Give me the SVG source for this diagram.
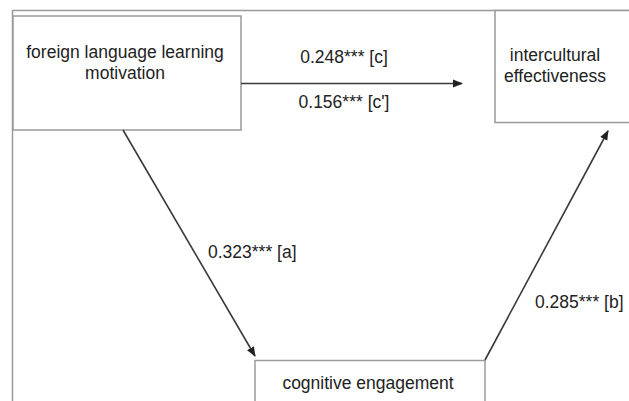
<svg xmlns="http://www.w3.org/2000/svg" width="629" height="401" viewBox="0 0 629 401">
<style>
.box{fill:#fff;stroke:#9a9a9a;stroke-width:1.5}
.frame{fill:none;stroke:#9a9a9a;stroke-width:1.5}
.edge{fill:none;stroke:#3a3a3a;stroke-width:1.6}
text{font-family:"Liberation Sans",Arial,sans-serif;font-size:17.5px;fill:#222}
.c{text-anchor:middle}
</style>
<defs>
<marker id="ah" viewBox="0 0 10 10" refX="9" refY="5" markerWidth="10" markerHeight="10" markerUnits="userSpaceOnUse" orient="auto">
<path d="M0,1 L10,5 L0,9 Z" fill="#222"/>
</marker>
</defs>
<rect width="629" height="401" fill="#fff"/>
<path class="frame" d="M12.5,401 V10.5 H629"/>
<g id="motivation">
<rect class="box" x="13" y="16" width="228" height="114"/>
<text class="c" x="125" y="58">foreign language learning</text>
<text class="c" x="125" y="79">motivation</text>
</g>
<g id="effectiveness">
<rect class="box" x="495" y="10.5" width="150" height="112"/>
<text class="c" x="555" y="61">intercultural</text>
<text class="c" x="555" y="82">effectiveness</text>
</g>
<g id="engagement">
<rect class="box" x="255" y="360.5" width="230" height="60"/>
<text class="c" x="368" y="389">cognitive engagement</text>
</g>
<g id="connectors">
<line class="edge" x1="241" y1="83.5" x2="462" y2="83.5" marker-end="url(#ah)"/>
<line class="edge" x1="123" y1="130" x2="255" y2="356" marker-end="url(#ah)"/>
<line class="edge" x1="485" y1="360" x2="608" y2="131" marker-end="url(#ah)"/>
<text class="c" x="344" y="63">0.248*** [c]</text>
<text class="c" x="344" y="108">0.156*** [c']</text>
<text x="208" y="258">0.323*** [a]</text>
<text x="535" y="308">0.285*** [b]</text>
</g>
</svg>
